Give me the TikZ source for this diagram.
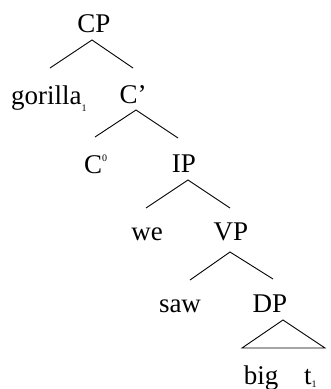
\documentclass[tikz,border=0pt]{standalone}
\usepackage{fontspec}
\setmainfont{Liberation Serif}
\begin{document}
\begin{tikzpicture}[x=1pt,y=-1pt,
  lab/.style={inner sep=0pt,anchor=base,font=\fontsize{27}{27}\selectfont},
  branch/.style={line width=0.9pt}]
\useasboundingbox (0,0) rectangle (330,389);
\newcommand{\smallidx}[1]{{\fontsize{10}{10}\selectfont #1}}
% labels
\node[lab] (cp) at (94,32) {CP};
\node[lab,anchor=base west] (gor) at (11,104) {gorilla\raisebox{-7pt}{\smallidx{1}}};
\node[lab] (cbar) at (133,103) {C’};
\node[lab,anchor=base west] (c0) at (84,173) {C\raisebox{12pt}{\smallidx{0}}};
\node[lab] (ip) at (184,172) {IP};
\node[lab] (we) at (147,240) {we};
\node[lab] (vp) at (231,240) {VP};
\node[lab] (saw) at (180,312) {saw};
\node[lab] (dp) at (270,312) {DP};
\node[lab] (big) at (261,384) {big};
\node[lab,anchor=base west] (t) at (304,384) {t\raisebox{-3pt}{\smallidx{1}}};
% branch points
\coordinate (cpA) at (92,40);  \coordinate (cpL) at (50,68);  \coordinate (cpR) at (133,68);
\coordinate (cbA) at (136,110); \coordinate (cbL) at (95,137); \coordinate (cbR) at (178,138);
\coordinate (ipA) at (188,180); \coordinate (ipL) at (146,208); \coordinate (ipR) at (230,208);
\coordinate (vpA) at (230,252); \coordinate (vpL) at (190,280); \coordinate (vpR) at (273,279);
\coordinate (dpA) at (283,320); \coordinate (dpL) at (242,348); \coordinate (dpR) at (325,348);
\draw[branch] (cpL) -- (cpA) -- (cpR);
\draw[branch] (cbL) -- (cbA) -- (cbR);
\draw[branch] (ipL) -- (ipA) -- (ipR);
\draw[branch] (vpL) -- (vpA) -- (vpR);
\draw[branch] (dpA) -- (dpL) -- (dpR) -- cycle;
\end{tikzpicture}
\end{document}
